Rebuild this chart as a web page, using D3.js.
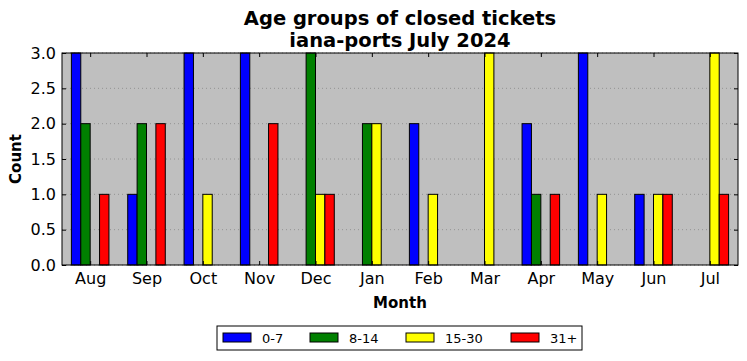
<!DOCTYPE html>
<html>
<head>
<meta charset="utf-8">
<script src="https://cdn.jsdelivr.net/npm/d3@7"></script>
<style>
  body { margin: 0; background: #fff; }
  text { font-family: "DejaVu Sans", sans-serif; }
</style>
</head>
<body>
<svg id="chart" width="747" height="361"></svg>
<script>
// chart data
const months = ["Aug", "Sep", "Oct", "Nov", "Dec", "Jan", "Feb", "Mar", "Apr", "May", "Jun", "Jul"];
const groups = ["0-7", "8-14", "15-30", "31+"];
const colors = ["#0000ff", "#008000", "#ffff00", "#ff0000"];
const age0to7   = [3, 1, 3, 3, 0, 0, 2, 0, 2, 3, 1, 0];
const age8to14  = [2, 2, 0, 0, 3, 2, 0, 0, 1, 0, 0, 0];
const age15to30 = [0, 0, 1, 0, 1, 2, 1, 3, 0, 1, 1, 3];
const age31plus = [1, 2, 0, 2, 1, 0, 0, 0, 1, 0, 1, 1];
const yTicks = [0, 0.5, 1, 1.5, 2, 2.5, 3];

const series = [age0to7, age8to14, age15to30, age31plus];

const margin = { left: 62, right: 9, top: 53, bottom: 96 };
const W = 747, H = 361;
const innerW = W - margin.left - margin.right;
const innerH = H - margin.top - margin.bottom;

const svg = d3.select("#chart");
const g = svg.append("g").attr("transform", `translate(${margin.left},${margin.top})`);

const x = d3.scaleLinear().domain([-0.5, months.length - 0.5]).range([0, innerW]);
const y = d3.scaleLinear().domain([0, 3]).range([innerH, 0]);
const barW = 1 / 6;

g.append("rect")
  .attr("width", innerW).attr("height", innerH)
  .attr("fill", "#bfbfbf");

// horizontal dotted grid
g.selectAll(".grid")
  .data(yTicks)
  .enter().append("line")
  .attr("x1", 0).attr("x2", innerW)
  .attr("y1", (d) => y(d)).attr("y2", (d) => y(d))
  .attr("stroke", "#888").attr("stroke-width", 0.8)
  .attr("stroke-dasharray", "1,3");

// bars
series.forEach((vals, si) => {
  g.selectAll(".bar" + si)
    .data(vals)
    .enter().append("rect")
    .attr("x", (d, i) => x(i - 2 * barW + si * barW))
    .attr("width", x(barW) - x(0))
    .attr("y", (d) => y(d))
    .attr("height", (d) => y(0) - y(d))
    .attr("fill", colors[si])
    .attr("stroke", "#000").attr("stroke-width", 1);
});

// frame
g.append("rect")
  .attr("width", innerW).attr("height", innerH)
  .attr("fill", "none").attr("stroke", "#000").attr("stroke-width", 1);

// ticks (inward, all sides)
const xAxisB = d3.axisBottom(x).tickValues(d3.range(months.length))
  .tickFormat((i) => months[i]).tickSizeInner(-4).tickSizeOuter(0).tickPadding(8);
const xAxisT = d3.axisTop(x).tickValues(d3.range(months.length))
  .tickFormat("").tickSizeInner(-4).tickSizeOuter(0);
const yAxisL = d3.axisLeft(y).tickValues(yTicks)
  .tickFormat(d3.format(".1f")).tickSizeInner(-4).tickSizeOuter(0).tickPadding(6);
const yAxisR = d3.axisRight(y).tickValues(yTicks)
  .tickFormat("").tickSizeInner(-4).tickSizeOuter(0);

const styleAxis = (a) => {
  a.select(".domain").remove();
  a.selectAll("text").attr("font-size", 16).attr("fill", "#000")
    .style("font-family", "DejaVu Sans, sans-serif");
  a.selectAll("line").attr("stroke", "#000");
};

g.append("g").attr("transform", `translate(0,${innerH})`).call(xAxisB).call(styleAxis);
g.append("g").call(xAxisT).call(styleAxis);
g.append("g").call(yAxisL).call(styleAxis);
g.append("g").attr("transform", `translate(${innerW},0)`).call(yAxisR).call(styleAxis);

// titles
svg.append("text").attr("x", 400).attr("y", 25)
  .attr("text-anchor", "middle").attr("font-size", 19.5).attr("font-weight", "bold")
  .text("Age groups of closed tickets");
svg.append("text").attr("x", 400).attr("y", 47)
  .attr("text-anchor", "middle").attr("font-size", 19.5).attr("font-weight", "bold")
  .text("iana-ports July 2024");

svg.append("text").attr("x", 400).attr("y", 308)
  .attr("text-anchor", "middle").attr("font-size", 15).attr("font-weight", "bold")
  .text("Month");
svg.append("text")
  .attr("transform", `translate(21,${margin.top + innerH / 2}) rotate(-90)`)
  .attr("text-anchor", "middle").attr("font-size", 15).attr("font-weight", "bold")
  .text("Count");

// legend
const legend = svg.append("g").attr("transform", "translate(217,326)");
legend.append("rect").attr("width", 365).attr("height", 24)
  .attr("fill", "#fff").attr("stroke", "#000").attr("stroke-width", 1);
const legendX = [6, 93, 189, 294];
groups.forEach((name, i) => {
  legend.append("rect").attr("x", legendX[i]).attr("y", 7)
    .attr("width", 28).attr("height", 9)
    .attr("fill", colors[i]).attr("stroke", "#000").attr("stroke-width", 1);
  legend.append("text").attr("x", legendX[i] + 39).attr("y", 17)
    .attr("font-size", 13).text(name);
});
</script>
</body>
</html>
